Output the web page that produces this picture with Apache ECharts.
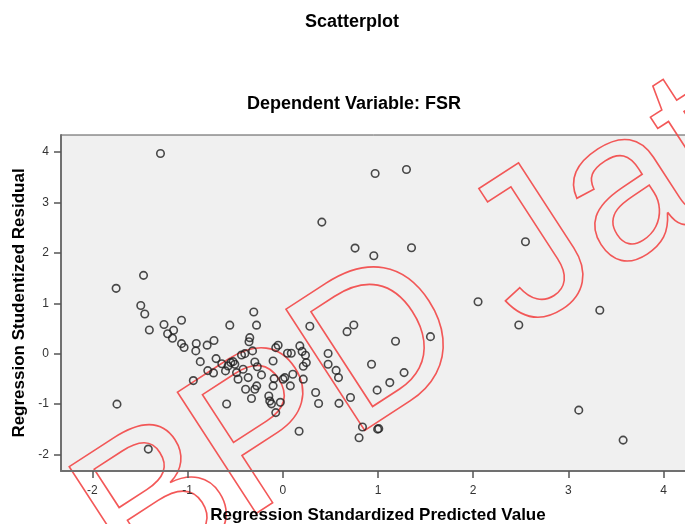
<!DOCTYPE html>
<html><head><meta charset="utf-8">
<script src="https://cdn.jsdelivr.net/npm/echarts@6/dist/echarts.min.js"></script>
<style>html,body{margin:0;padding:0;background:#fff}#c{width:685px;height:524px}</style>
</head><body><div id="c"></div>
<script>
// Regression Standardized Predicted Value (x) and Studentized Residual (y)
const predicted = [
 -1.285,-1.751,-1.463,-1.492,-1.450,-1.402,-1.742,-1.413,-1.248,-1.064,
 -1.210,-1.147,-1.159,-1.064,-1.037,-0.909,-0.914,-0.795,-0.723,-0.867,
 -0.701,-0.788,-0.728,-0.940,-0.641,-0.305,-0.557,-0.276,0.284,-0.347,
 -0.355,-0.049,-0.074,0.179,0.203,0.049,0.089,0.238,-0.318,-0.399,
 -0.434,-0.546,-0.522,-0.504,-0.575,-0.602,-0.486,-0.470,-0.417,-0.294,
 -0.268,-0.224,-0.364,-0.391,-0.329,-0.294,-0.274,-0.102,-0.091,-0.102,
 0.003,0.021,0.079,0.105,0.215,0.247,0.215,-0.147,-0.137,-0.119,
 -0.026,-0.074,-0.590,0.345,0.376,0.476,0.476,0.560,0.585,0.590,
 0.171,0.711,0.837,0.801,0.996,1.008,0.675,0.746,1.184,1.551,
 0.932,1.274,1.124,0.991,2.051,0.970,1.299,0.410,0.759,0.956,
 1.352,2.549,3.330,2.479,3.109,3.575
];
const residual = [
 3.972,1.296,1.554,0.955,0.787,0.470,-1.003,-1.895,0.579,0.664,
 0.394,0.464,0.305,0.198,0.123,0.202,0.054,0.168,0.262,-0.159,
 -0.099,-0.337,-0.383,-0.535,-0.200,0.827,0.565,0.565,0.543,0.317,
 0.236,0.166,0.119,0.153,0.044,0.008,0.008,-0.032,0.054,0.000,
 -0.026,-0.178,-0.159,-0.210,-0.244,-0.343,-0.377,-0.507,-0.309,-0.165,
 -0.260,-0.422,-0.476,-0.706,-0.892,-0.706,-0.640,-0.145,-0.496,-0.640,
 -0.507,-0.476,-0.640,-0.408,-0.507,-0.178,-0.250,-0.842,-0.942,-0.997,
 -0.967,-1.171,-1.001,-0.773,-0.991,0.004,-0.210,-0.333,-0.476,-0.987,
 -1.542,-0.872,-1.457,-1.671,-1.499,-1.489,0.436,0.569,0.246,0.337,
 -0.210,-0.377,-0.575,-0.725,1.031,3.576,3.655,2.611,2.095,1.943,
 2.101,2.220,0.860,0.569,-1.122,-1.717
];
const xTicks = [-2,-1,0,1,2,3,4];
const yTicks = [-2,-1,0,1,2,3,4];
const mainTitle = 'Scatterplot';
const subTitle = 'Dependent Variable: FSR';
const xName = 'Regression Standardized Predicted Value';
const yName = 'Regression Studentized Residual';

const FONT = "'Liberation Sans', Arial, sans-serif";
const points = predicted.map((v, i) => [v, residual[i]]);

// watermark letters (decorative)
const WM_FS = 210;
const WM_ROT = 33 * Math.PI / 180;
const wmMid = -0.3465 * WM_FS;
const bx = Math.cos(WM_ROT), by = -Math.sin(WM_ROT);
function wmLetter(txt, x, y, shift) {
  return {
    type: 'group', x: x + shift * bx, y: y + shift * by, rotation: WM_ROT, z: 100, silent: true,
    children: [{
      type: 'text', x: 0, y: wmMid,
      style: {
        text: txt, font: 'normal ' + WM_FS + 'px ' + FONT,
        textAlign: 'left', textVerticalAlign: 'middle',
        fill: 'rgba(0,0,0,0)', stroke: 'rgba(242,70,70,0.9)', lineWidth: 1.6
      }
    }]
  };
}

const chart = echarts.init(document.getElementById('c'), null, {renderer: 'canvas'});
chart.setOption({
  animation: false,
  backgroundColor: '#ffffff',
  grid: {
    left: 61, top: 135, width: 634, height: 336,
    outerBoundsMode: 'none', containLabel: false,
    show: true, backgroundColor: '#f0f0f0', borderColor: '#555', borderWidth: 1
  },
  xAxis: {
    type: 'value', min: -2.33, max: 4.33,
    axisLine: {show: true, onZero: false, lineStyle: {color: '#707070', width: 2}},
    axisTick: {show: true, inside: false, length: 7, customValues: xTicks, lineStyle: {color: '#555', width: 1.5}},
    axisLabel: {customValues: xTicks, color: '#333', fontSize: 12, fontFamily: FONT, margin: 14},
    splitLine: {show: false},
    name: xName, nameLocation: 'middle', nameGap: 36,
    nameTextStyle: {fontSize: 17, fontWeight: 'bold', color: '#000', fontFamily: FONT}
  },
  yAxis: {
    type: 'value', min: -2.33, max: 4.34,
    axisLine: {show: true, onZero: false, lineStyle: {color: '#707070', width: 2}},
    axisTick: {show: true, inside: false, length: 7, customValues: yTicks, lineStyle: {color: '#555', width: 1.5}},
    axisLabel: {customValues: yTicks, color: '#333', fontSize: 12, fontFamily: FONT, margin: 12},
    splitLine: {show: false},
    name: yName, nameLocation: 'middle', nameGap: 32,
    nameTextStyle: {fontSize: 17, fontWeight: 'bold', color: '#000', fontFamily: FONT}
  },
  series: [{
    type: 'scatter', data: points, symbol: 'circle', symbolSize: 7.5,
    itemStyle: {color: 'rgba(0,0,0,0)', borderColor: '#1e1e1e', borderWidth: 1.6},
    emphasis: {disabled: true}, silent: true
  }],
  graphic: [
    {type: 'text', x: 352, y: 22, style: {text: mainTitle, font: 'bold 18px ' + FONT, fill: '#000', textAlign: 'center', textVerticalAlign: 'middle'}},
    {type: 'text', x: 354, y: 104, style: {text: subTitle, font: 'bold 18px ' + FONT, fill: '#000', textAlign: 'center', textVerticalAlign: 'middle'}},
    wmLetter('B', 141.5, 609.8, 0),
    wmLetter('P', 249.9, 535.1, 0),
    wmLetter('D', 359.9, 451.1, -2),
    wmLetter('Jateng', 523.7, 349.6, 8)
  ]
});
</script>
</body></html>
